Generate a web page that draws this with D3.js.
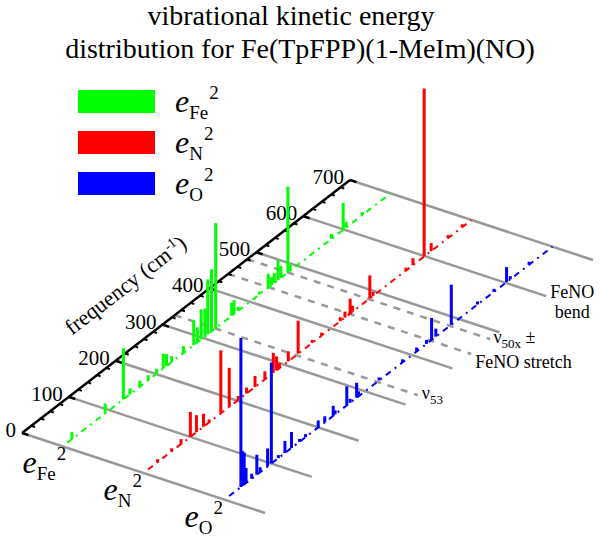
<!DOCTYPE html>
<html><head><meta charset="utf-8">
<script src="https://cdn.jsdelivr.net/npm/d3@7"></script>
<style>body{margin:0;background:#fff}svg{display:block}text{font-family:"Liberation Serif","Times New Roman",serif;fill:#000}</style>
</head><body>
<script>
// ---- data ----
const categories = ["Fe", "N", "O"];
const seriesColors = ["#00ff00", "#ff0000", "#0000ff"];
const freqTicks = [0, 100, 200, 300, 400, 500, 600, 700];
// frequencies (cm-1) and relative kinetic-energy fractions per mode
const feFreq = [20, 91, 130, 144, 165, 183, 201, 215, 222, 233, 258, 280, 288, 296, 304, 310, 318, 327, 361, 366, 375, 420, 439, 446, 452, 460, 466, 481, 486, 574, 599, 605, 640];
const feVal  = [0.035, 0.05, 0.255, 0.03, 0.03, 0.025, 0.025, 0.075, 0.06, 0.03, 0.035, 0.125, 0.075, 0.15, 0.14, 0.275, 0.31, 0.525, 0.065, 0.07, 0.02, 0.015, 0.07, 0.04, 0.05, 0.10, 0.06, 0.43, 0.03, 0.025, 0.135, 0.03, 0.015];
const nFreq = [30, 60, 80, 100, 113, 128, 140, 165, 183, 202, 220, 238, 259, 277, 284, 290, 309, 330, 360, 380, 420, 430, 441, 446, 483, 490, 560, 575, 599, 614, 650, 680];
const nVal  = [0.015, 0.015, 0.025, 0.125, 0.085, 0.065, 0.015, 0.315, 0.195, 0.02, 0.03, 0.055, 0.04, 0.10, 0.07, 0.025, 0.05, 0.165, 0.015, 0.015, 0.02, 0.03, 0.075, 0.03, 0.115, 0.02, 0.015, 0.035, 0.84, 0.04, 0.015, 0.015];
const oFreq = [35, 38, 42, 46, 58, 69, 76, 92, 100, 115, 129, 143, 160, 173, 200, 214, 232, 236, 261, 268, 282, 286, 330, 380, 410, 431, 442, 451, 484, 540, 575, 602, 610, 650];
const oVal  = [0.745, 0.175, 0.16, 0.075, 0.025, 0.10, 0.025, 0.09, 0.505, 0.015, 0.06, 0.08, 0.015, 0.015, 0.035, 0.03, 0.05, 0.02, 0.095, 0.02, 0.075, 0.025, 0.015, 0.015, 0.02, 0.02, 0.11, 0.04, 0.20, 0.015, 0.015, 0.075, 0.015, 0.015];
const modeFreqs = [326, 440, 481];
const titleLines = ["vibrational kinetic energy", "distribution for Fe(TpFPP)(1-MeIm)(NO)"];

const seriesFreq = [feFreq, nFreq, oFreq];
const seriesVal = [feVal, nVal, oVal];

// ---- scales (oblique projection) ----
const W = 600, H = 537;
const svg = d3.select("body").append("svg").attr("width", W).attr("height", H);
const fScale = d3.scaleLinear().domain([0, 700]).range([[22, 433], [350, 180]]);
const dScale = d3.scaleLinear().domain([0, 3]).range([[0, 0], [243, 80]]);
const hScale = d3.scaleLinear().domain([0, 1]).range([0, 200]);
function P(f, d, v) {
  const a = fScale(f); const ax = a[0], ay = a[1];
  const b = dScale(d); const bx = b[0], by = b[1];
  return [ax + bx, ay + by - hScale(v || 0)];
}
const line = d3.line();

// title
svg.selectAll("text.title").data(titleLines).join("text").attr("class", "title")
  .attr("x", (d, i) => i === 0 ? 291 : 300).attr("y", (d, i) => 25 + i * 33)
  .attr("text-anchor", "middle").style("font-size", "28px").text(d => d);

// legend
const leg = svg.append("g");
categories.forEach((c, i) => {
  const y = 90 + i * 41;
  leg.append("rect").attr("x", 78).attr("y", y).attr("width", 77).attr("height", 23).attr("fill", seriesColors[i]);
  const t = leg.append("text").attr("x", 175).attr("y", y + 22).style("font-size", "32px");
  t.append("tspan").style("font-style", "italic").text("e");
  t.append("tspan").attr("dy", 7).style("font-size", "19px").text(c);
  t.append("tspan").attr("dy", -20).attr("dx", 1).style("font-size", "19px").text("2");
});

// gray grid lines at frequency ticks
const grid = svg.append("g");
freqTicks.forEach(t => {
  grid.append("path").attr("d", line([P(t, 0), P(t, 3)])).attr("stroke", "#999").attr("stroke-width", 2.5).attr("fill", "none");
});
modeFreqs.forEach(f => {
  grid.append("path").attr("d", line([P(f, 0), P(f, 3)])).attr("stroke", "#999").attr("stroke-width", 2.5)
    .attr("stroke-dasharray", "7,7").attr("fill", "none");
});

// mode labels
function modeLabel(f, dx, dy, parts, anchor) {
  const p = P(f, 3);
  const t = svg.append("text").attr("x", p[0] + dx).attr("y", p[1] + dy).style("font-size", "18px").attr("text-anchor", anchor || "start");
  parts.forEach(pt => { const s = t.append("tspan").text(pt.t); if (pt.dy) s.attr("dy", pt.dy); if (pt.fs) s.style("font-size", pt.fs); });
}
modeLabel(modeFreqs[0], 4, 4, [{t: "ν"}, {t: "53", dy: 5, fs: "13px"}]);
modeLabel(modeFreqs[2], 3, 4, [{t: "ν"}, {t: "50x", dy: 5, fs: "13px"}, {t: " ±", dy: -5}]);
modeLabel(modeFreqs[1], 4, 14, [{t: "FeNO stretch"}]);
modeLabel(600, 26, 2, [{t: "FeNO"}], "middle");
modeLabel(600, 26, 22, [{t: "bend"}], "middle");

// frequency axis
const ax = svg.append("g");
ax.append("path").attr("d", line([P(0, 0), P(700, 0)])).attr("stroke", "#000").attr("stroke-width", 2.5).attr("fill", "none");
fScale.ticks(35).forEach(t => {
  const major = t % 100 === 0;
  ax.append("path").attr("d", line([P(t, 0), P(t, major ? 0.08 : 0.045)])).attr("stroke", "#000").attr("stroke-width", major ? 2.5 : 2);
});
freqTicks.forEach(t => {
  const p = P(t, 0);
  ax.append("text").attr("x", p[0] - 6).attr("y", p[1] + 4).attr("text-anchor", "end").style("font-size", "21px").text(t);
});
const ang = Math.atan2(P(700, 0)[1] - P(0, 0)[1], P(700, 0)[0] - P(0, 0)[0]) * 180 / Math.PI;
const at = ax.append("text").attr("transform", `translate(130,291) rotate(${ang})`).attr("text-anchor", "middle").style("font-size", "22px");
at.append("tspan").text("frequency (cm");
at.append("tspan").attr("dy", -8).style("font-size", "14px").text("-1");
at.append("tspan").attr("dy", 8).text(")");

// series
categories.forEach((c, i) => {
  const d = i + 0.5;
  const g = svg.append("g");
  g.append("path").attr("d", line([P(10, d), P(700, d)])).attr("stroke", seriesColors[i]).attr("stroke-width", 2)
    .attr("stroke-dasharray", "6,5,2,5").attr("fill", "none");
  g.selectAll("path.stick").data(seriesFreq[i].map((f, j) => [f, seriesVal[i][j]])).join("path").attr("class", "stick")
    .attr("d", v => line([P(v[0], d), P(v[0], d, v[1])])).attr("stroke", seriesColors[i]).attr("stroke-width", 3).attr("fill", "none");
  const s = P(0, d);
  const t = svg.append("text").attr("x", s[0] - 40).attr("y", s[1] + 27).style("font-size", "32px");
  t.append("tspan").style("font-style", "italic").text("e");
  t.append("tspan").attr("dy", 7).style("font-size", "19px").text(c);
  t.append("tspan").attr("dy", -20).attr("dx", 1).style("font-size", "19px").text("2");
});
</script>
</body></html>
